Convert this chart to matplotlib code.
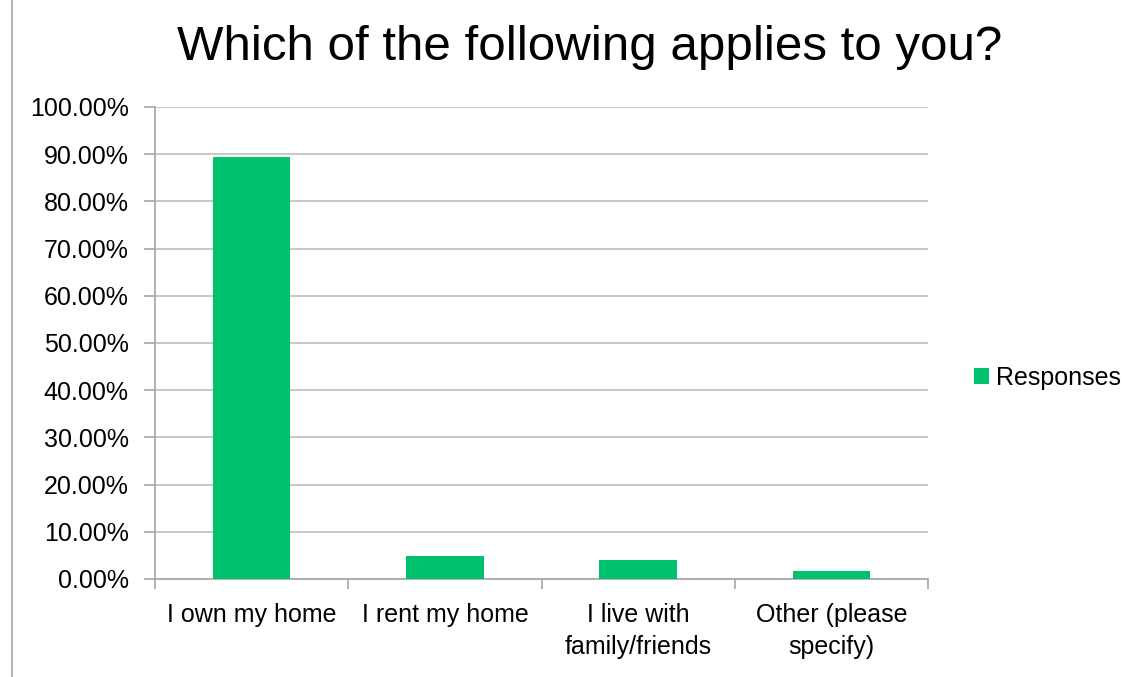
import matplotlib
matplotlib.use("Agg")
import matplotlib.pyplot as plt
from matplotlib.ticker import PercentFormatter
from matplotlib.lines import Line2D

# data
categories = ["I own my home", "I rent my home", "I live with\nfamily/friends", "Other (please\nspecify)"]
responses = [89.36, 4.89, 4.04, 1.70]
y_ticks = [0, 10, 20, 30, 40, 50, 60, 70, 80, 90, 100]

bar_color = "#00C16E"
grid_color = "#BFBFBF"
axis_color = "#A6A6A6"

plt.rcParams["font.family"] = ["Liberation Sans", "DejaVu Sans"]

fig = plt.figure(figsize=(11.37, 6.77), dpi=100)
ax = fig.add_axes([155 / 1137, 1 - 579 / 677, (928 - 155) / 1137, (579 - 107) / 677])

x = range(len(categories))
bars = ax.bar(x, responses, width=0.4, color=bar_color, label="Responses", zorder=3)

ax.set_xlim(-0.5, len(categories) - 0.5)
ax.set_ylim(0, 100)
ax.set_yticks(y_ticks)
ax.yaxis.set_major_formatter(PercentFormatter(decimals=2))
ax.yaxis.grid(True, color=grid_color, linewidth=1.2, zorder=0)

# category labels at centers, tick marks at boundaries
ax.set_xticks(list(x))
ax.set_xticklabels(categories, fontsize=18, linespacing=1.45)
ax.set_xticks([i - 0.5 for i in range(len(categories) + 1)], minor=True)
ax.tick_params(axis="x", which="major", length=0, pad=17)
ax.tick_params(axis="x", which="minor", length=7, color=axis_color, width=1.2)
ax.tick_params(axis="y", length=8, color=axis_color, width=1.2, labelsize=18, pad=11)

for side in ["top", "right"]:
    ax.spines[side].set_visible(False)
for side in ["left", "bottom"]:
    ax.spines[side].set_color(axis_color)
    ax.spines[side].set_linewidth(1.2)

fig.text(590 / 1137, 1 - 47 / 677, "Which of the following applies to you?",
         ha="center", va="center", fontsize=35.5)

fig.legend(handles=[bars], labels=["Responses"], loc="center left",
           bbox_to_anchor=(951 / 1137, 1 - 378 / 677), frameon=False,
           fontsize=18, handlelength=0.6, handleheight=0.6, handletextpad=0.3)

# chart border fragment at left
fig.add_artist(Line2D([12 / 1137, 12 / 1137], [0, 1], color=axis_color, linewidth=1.2))

fig.savefig("out.png", dpi=100)
